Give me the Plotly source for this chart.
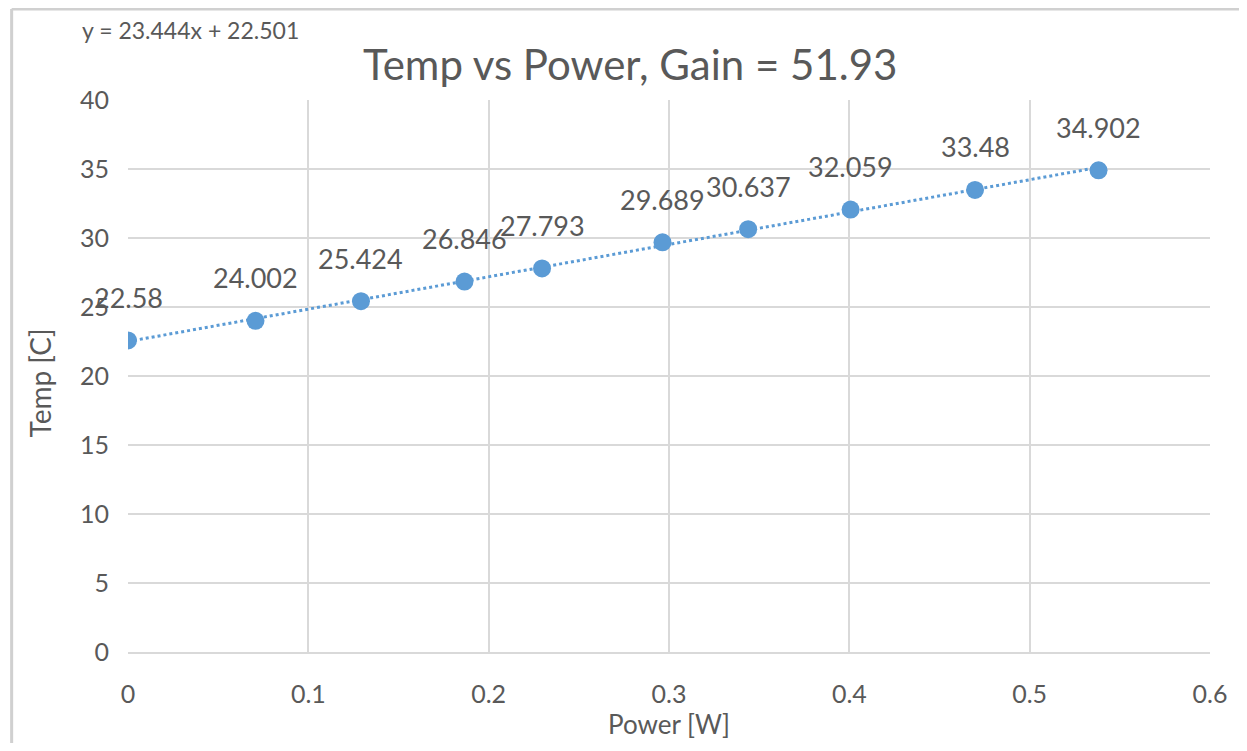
import plotly.graph_objects as go
import numpy as np

power = [0.0, 0.0707, 0.1292, 0.1866, 0.2296, 0.2964, 0.3439, 0.4007, 0.4697, 0.5382]
temp = [22.58, 24.002, 25.424, 26.846, 27.793, 29.689, 30.637, 32.059, 33.48, 34.902]
slope = 23.444
intercept = 22.501
title_text = "Temp vs Power, Gain = 51.93"
eq_text = "y = 23.444x + 22.501"

blue = "#5B9BD5"
grey_text = "#595959"
grid = "#D9D9D9"
font = "Lato"

OFF = 8  # page body margin
W, H = 1247 - 2 * OFF, 751 - 2 * OFF
L = 128 - OFF
T = 100 - OFF
R = W - (1216 - OFF)
B = H - (652 - OFF)
pw, ph = W - L - R, H - T - B


def px(xp):
    return (xp - OFF - L) / pw


def py(yp):
    return (H - B - (yp - OFF)) / ph


tx = np.array([min(power), max(power)])
ty = slope * tx + intercept

fig = go.Figure()
fig.add_trace(go.Scatter(x=tx, y=ty, mode="lines",
                         line=dict(color=blue, width=3, dash="dot"),
                         showlegend=False, hoverinfo="skip"))
fig.add_trace(go.Scatter(x=power, y=temp, mode="markers",
                         marker=dict(color=blue, size=18),
                         showlegend=False))

annotations = []
for x, y in zip(power, temp):
    annotations.append(dict(x=x, y=y, xref="x", yref="y", text=f"{y:g}",
                            showarrow=False, yshift=43,
                            font=dict(family=font, size=27, color=grey_text)))
annotations.append(dict(x=px(80), y=py(30), xref="paper", yref="paper",
                        text=eq_text, showarrow=False, xanchor="left", yanchor="middle",
                        font=dict(family=font, size=23, color=grey_text)))
annotations.append(dict(x=px(633), y=py(64), xref="paper", yref="paper",
                        text=title_text, showarrow=False, xanchor="center", yanchor="middle",
                        font=dict(family=font, size=42, color=grey_text)))
annotations.append(dict(x=px(672), y=py(724), xref="paper", yref="paper",
                        text="Power [W]", showarrow=False, xanchor="center", yanchor="middle",
                        font=dict(family=font, size=26, color=grey_text)))
annotations.append(dict(x=px(40), y=py(383), xref="paper", yref="paper",
                        text="Temp [C]", showarrow=False, xanchor="center", yanchor="middle",
                        textangle=-90,
                        font=dict(family=font, size=28, color=grey_text)))
fig.update_layout(
    width=W, height=H,
    margin=dict(l=L, r=R, t=T, b=B),
    paper_bgcolor="white", plot_bgcolor="white",
    annotations=annotations,
    xaxis=dict(range=[0, 0.6], dtick=0.1, tick0=0, showgrid=True, gridcolor=grid, gridwidth=2,
               zeroline=False, showline=True, linecolor=grid, linewidth=2, mirror=False,
               ticks="", tickfont=dict(family=font, size=25, color=grey_text),
               tickformat="~g", ticklabelstandoff=19),
    yaxis=dict(range=[0, 40], dtick=5, showgrid=True, gridcolor=grid, gridwidth=2,
               zeroline=False, showline=False, ticks="",
               tickfont=dict(family=font, size=25, color=grey_text), ticklabelstandoff=18),
    shapes=[
        dict(type="line", xref="paper", yref="paper", x0=px(11), x1=px(11),
             y0=py(760), y1=py(9), line=dict(color="#D0D0D0", width=3)),
        dict(type="line", xref="paper", yref="paper", x0=px(11), x1=px(1260),
             y0=py(9), y1=py(9), line=dict(color="#D0D0D0", width=3)),
    ],
)
fig.write_html("out.html")
